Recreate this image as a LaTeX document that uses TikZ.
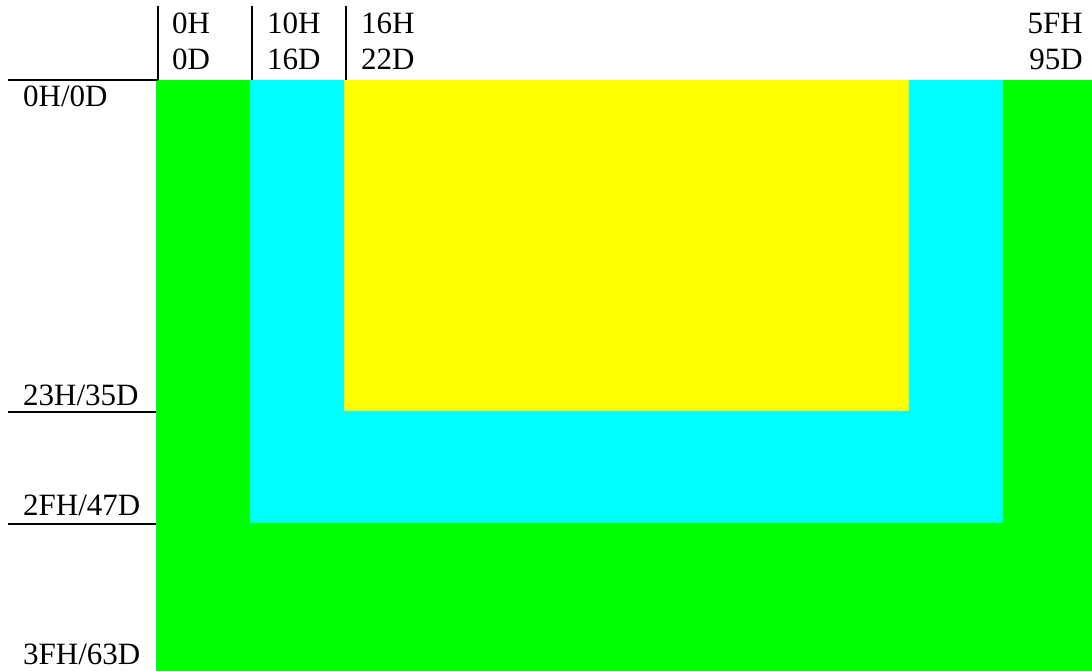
\documentclass[tikz,border=0pt]{standalone}
\usepackage{fontspec}
\setmainfont{Liberation Serif}
\usetikzlibrary{positioning}
\definecolor{mapgreen}{HTML}{00FF00}
\definecolor{mapcyan}{HTML}{00FFFF}
\definecolor{mapyellow}{HTML}{FFFF00}

\begin{document}
\begin{tikzpicture}[x=1pt, y=-1pt,
    lbl/.style={inner sep=0pt, font=\fontsize{31}{36}\selectfont},
    rule/.style={line width=2pt}]
  \useasboundingbox (0,0) rectangle (1092,671);
  % screen areas
  \fill[mapgreen]  (156,80) rectangle (1092,671);
  \fill[mapcyan]   (250,80) rectangle (1003,523);
  \fill[mapyellow] (344,80) rectangle (909,411);
  % column labels
  \node[lbl, anchor=base west] (h0)  at (172,34)  {0H};
  \node[lbl, anchor=base west] (d0)  at (172,70)  {0D};
  \node[lbl, anchor=base west] (h10) at (267,34)  {10H};
  \node[lbl, anchor=base west] (d16) at (267,70)  {16D};
  \node[lbl, anchor=base west] (h16) at (361,34)  {16H};
  \node[lbl, anchor=base west] (d22) at (361,70)  {22D};
  \node[lbl, anchor=base east] (h5f) at (1083,34) {5FH};
  \node[lbl, anchor=base east] (d95) at (1083,70) {95D};
  % row labels
  \node[lbl, anchor=base west] (r0)  at (23,107) {0H/0D};
  \node[lbl, anchor=base west] (r23) at (23,405) {23H/35D};
  \node[lbl, anchor=base west] (r2f) at (23,515) {2FH/47D};
  \node[lbl, anchor=base west] (r3f) at (23,664) {3FH/63D};
  % rulers
  \draw[rule] (8,80) -- (158,80);
  \foreach \x in {157.5, 251.5, 345.5} { \draw[rule] (\x,6) -- (\x,80); }
  \foreach \y in {412, 524} { \draw[rule] (8,\y) -- (156,\y); }
\end{tikzpicture}
\end{document}
